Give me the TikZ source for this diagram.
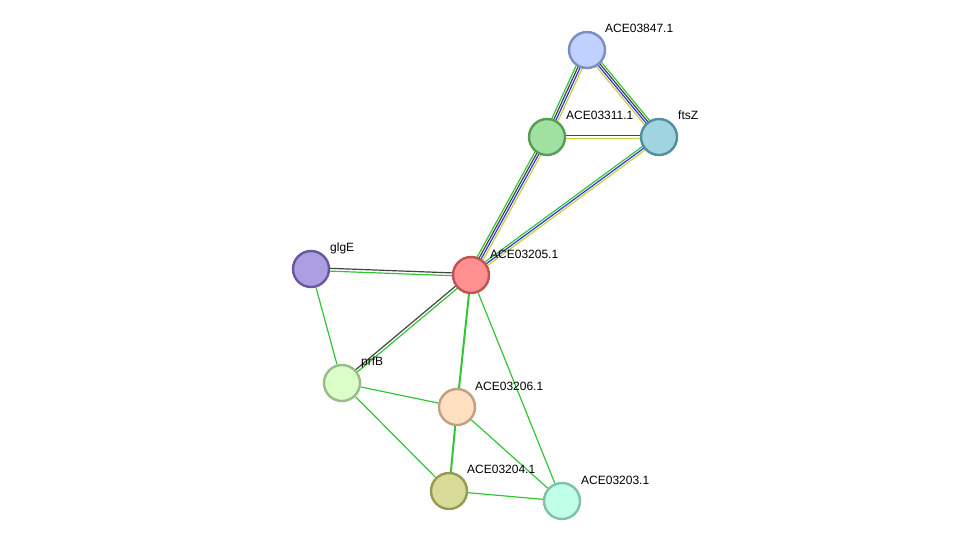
\documentclass[tikz,border=0pt]{standalone}
\usepackage{fontspec}
\setmainfont{Liberation Sans}
\usetikzlibrary{calc,backgrounds}
\definecolor{eg}{HTML}{33C633}
\definecolor{eb}{HTML}{3333E6}
\definecolor{ek}{HTML}{444444}
\definecolor{ey}{HTML}{C4D33A}
\tikzset{
  x=1pt,y=-1pt,
  prot/.style={circle,minimum size=36pt,inner sep=0pt,line width=2.4pt},
  lab/.style={anchor=west,inner sep=0pt,font=\fontsize{12}{14}\selectfont},
  ln/.style={line width=1.2pt},
}
\newcommand{\multiedge}[3]{%
  \foreach \o/\c in {#3}{%
    \draw[ln,\c] ($(#1.center)!\o pt!90:(#2.center)$) -- ($(#2.center)!\o pt!-90:(#1.center)$);
  }%
}
\begin{document}
\begin{tikzpicture}
\useasboundingbox (0,0) rectangle (976,547);
\node[prot,fill={rgb,255:red,192;green,208;blue,255},draw={rgb,255:red,122;green,142;blue,192}] (n3847) at (587,50) {};
\node[prot,fill={rgb,255:red,160;green,224;blue,160},draw={rgb,255:red,88;green,156;blue,88}] (n3311) at (547,137) {};
\node[prot,fill={rgb,255:red,160;green,212;blue,224},draw={rgb,255:red,80;green,142;blue,160}] (ftsZ) at (659,137) {};
\node[prot,fill={rgb,255:red,255;green,144;blue,144},draw={rgb,255:red,192;green,82;blue,82}] (n3205) at (471,275) {};
\node[prot,fill={rgb,255:red,172;green,158;blue,224},draw={rgb,255:red,104;green,88;blue,160}] (glgE) at (311,269) {};
\node[prot,fill={rgb,255:red,218;green,255;blue,200},draw={rgb,255:red,156;green,186;blue,136}] (prfB) at (342,383) {};
\node[prot,fill={rgb,255:red,255;green,224;blue,192},draw={rgb,255:red,192;green,160;blue,128}] (n3206) at (457,407) {};
\node[prot,fill={rgb,255:red,216;green,220;blue,152},draw={rgb,255:red,152;green,152;blue,82}] (n3204) at (449,491) {};
\node[prot,fill={rgb,255:red,192;green,255;blue,232},draw={rgb,255:red,128;green,192;blue,168}] (n3203) at (562,501) {};

\node[lab] (l3847) at (605,28) {ACE03847.1};
\node[lab] (l3311) at (566,115) {ACE03311.1};
\node[lab] (lftsZ) at (678,115) {ftsZ};
\node[lab] (l3205) at (490,254) {ACE03205.1};
\node[lab] (lglgE) at (330,248) {glgE};
\node[lab] (lprfB) at (361,362) {prfB};
\node[lab] (l3206) at (475,386) {ACE03206.1};
\node[lab] (l3204) at (467,469) {ACE03204.1};
\node[lab] (l3203) at (581,480) {ACE03203.1};

\begin{scope}[on background layer]
\multiedge{n3847}{n3311}{-3.3/eg,-1.1/ek,1.1/eb,3.3/ey}
\multiedge{n3847}{ftsZ}{3.3/eg,1.1/ek,-1.1/eb,-3.3/ey}
\multiedge{n3311}{ftsZ}{1.2/eb,-1.2/ey}
\multiedge{n3311}{n3205}{-3.3/eg,-1.1/ek,1.1/eb,3.3/ey}
\multiedge{ftsZ}{n3205}{-2.2/eg,0/eb,2.2/ey}
\multiedge{glgE}{n3205}{1.4/ek,-1.4/eg}
\multiedge{n3205}{prfB}{1.4/eg,-1.4/ek}
\draw[ln,eg] (glgE) -- (prfB);
\draw[ln,eg,line width=2pt] (n3205) -- (n3206);
\draw[ln,eg] (n3205) -- (n3203);
\draw[ln,eg] (prfB) -- (n3206);
\draw[ln,eg] (prfB) -- (n3204);
\draw[ln,eg,line width=2pt] (n3206) -- (n3204);
\draw[ln,eg] (n3206) -- (n3203);
\draw[ln,eg] (n3204) -- (n3203);
\end{scope}
\end{tikzpicture}
\end{document}
